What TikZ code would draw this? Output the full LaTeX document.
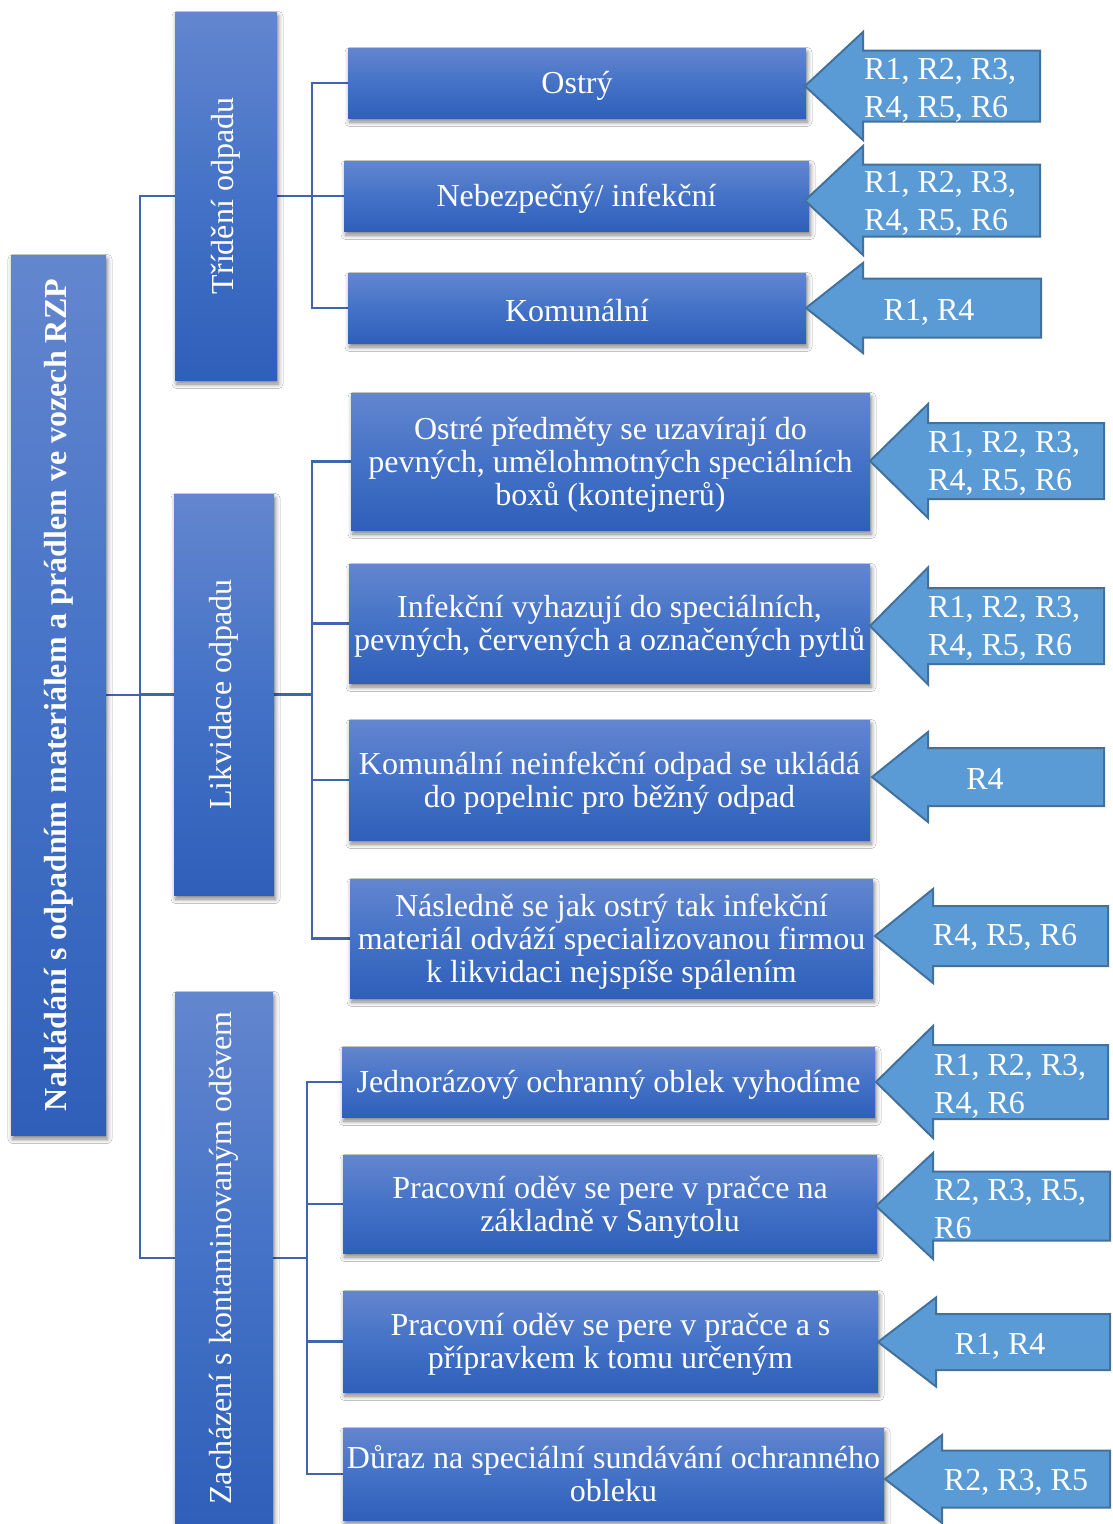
\documentclass[tikz,border=0pt]{standalone}
\usepackage{fontspec}
\setmainfont{Liberation Serif}
\usetikzlibrary{shadows.blur,backgrounds}

\definecolor{boxtop}{RGB}{99,134,206}
\definecolor{boxmid}{RGB}{68,114,199}
\definecolor{boxbot}{RGB}{47,95,185}
\definecolor{linkblue}{RGB}{64,101,173}
\definecolor{calloutfill}{RGB}{91,155,213}
\definecolor{calloutline}{RGB}{65,113,156}

% invisible strut that sets the height of a first text line
\newcommand\lift{\rule{0pt}{28pt}}

\tikzset{
  box/.style={rectangle, inner sep=0pt, top color=boxtop, bottom color=boxbot,
    middle color=boxmid, text=white, align=center,
    font=\fontsize{32}{33}\selectfont,
    execute at begin node={\lift},
    blur shadow={shadow xshift=1.5pt, shadow yshift=-4pt,
      shadow blur radius=4.5pt, shadow opacity=50}},
  conn/.style={draw=linkblue, line width=2.5pt, line cap=rect},
  callout/.style={fill=calloutfill, draw=calloutline, line width=2pt, line join=miter},
  reftext/.style={text=white, inner sep=0pt, align=left,
    font=\fontsize{32}{38}\selectfont},
}

% left-pointing block arrow: tip x, centre y, head base x, head half height,
% shaft half height, right end x
\newcommand\refarrow[6]{%
  \draw[callout] (#1,#2) -- (#3,#2-#4) -- (#3,#2-#5) -- (#6,#2-#5)
    -- (#6,#2+#5) -- (#3,#2+#5) -- (#3,#2+#4) -- cycle;}

\begin{document}
\begin{tikzpicture}[x=1pt, y=-1pt]
\useasboundingbox (0,0) rectangle (1112,1524);

% root
\node[box, minimum width=95pt, minimum height=880pt] (m) at (58.5,695)
  {\rotatebox{90}{\bfseries Nakládání s odpadním materiálem a prádlem ve vozech RZP}};

% second level
\node[box, minimum width=102pt, minimum height=368pt] (t1) at (226,196)
  {\rotatebox{90}{Třídění odpadu}};
\node[box, minimum width=100pt, minimum height=401pt] (t2) at (224,694.5)
  {\rotatebox{90}{Likvidace odpadu}};
\node[box, minimum width=98pt, minimum height=532pt] (t3) at (224,1258)
  {\rotatebox{90}{Zacházení s kontaminovaným oděvem}};

% sorting
\node[box, minimum width=458pt, minimum height=70pt] (a1) at (577,83) {Ostrý};
\node[box, minimum width=465pt, minimum height=70pt] (a2) at (576.5,196) {Nebezpečný/ infekční};
\node[box, minimum width=458pt, minimum height=70pt] (a3) at (577,308) {Komunální};

% disposal
\node[box, minimum width=519pt, minimum height=137pt] (b1) at (610.5,461.5)
  {\lift Ostré předměty se uzavírají do\\pevných, umělohmotných speciálních\\boxů (kontejnerů)};
\node[box, minimum width=521pt, minimum height=119pt] (b2) at (609.5,623.5)
  {\lift Infekční vyhazují do speciálních,\\pevných, červených a označených pytlů};
\node[box, minimum width=521pt, minimum height=120pt] (b3) at (609.5,780)
  {\lift Komunální neinfekční odpad se ukládá\\do popelnic pro běžný odpad};
\node[box, minimum width=523pt, minimum height=119pt] (b4) at (611.5,938.5)
  {\lift Následně se jak ostrý tak infekční\\materiál odváží specializovanou firmou\\k likvidaci nejspíše spálením};

% contaminated clothing
\node[box, minimum width=533pt, minimum height=70pt] (c1) at (608.5,1082)
  {Jednorázový ochranný oblek vyhodíme};
\node[box, minimum width=534pt, minimum height=98pt] (c2) at (610,1204)
  {\lift Pracovní oděv se pere v pračce na\\základně v Sanytolu};
\node[box, minimum width=535pt, minimum height=101pt] (c3) at (610.5,1341.5)
  {\lift Pracovní oděv se pere v pračce a s\\přípravkem k tomu určeným};
\node[box, minimum width=541pt, minimum height=92pt] (c4) at (613.5,1474)
  {Důraz na speciální sundávání ochranného\\obleku};

% block arrows
\refarrow{805}{86}{863}{54}{35.5}{1040}
\refarrow{805}{200.5}{863}{54.5}{36}{1040}
\refarrow{806}{308}{863}{45}{29.5}{1041}
\refarrow{870}{461}{928}{57}{38}{1104}
\refarrow{870}{626}{928}{58.5}{38}{1104}
\refarrow{872}{777}{928}{45}{29}{1104}
\refarrow{875}{936}{933}{47}{30}{1108}
\refarrow{876}{1082}{933}{56}{37}{1108}
\refarrow{876}{1206}{933}{53}{34.5}{1110}
\refarrow{878}{1342}{936}{44.5}{28}{1110}
\refarrow{885}{1479}{942}{44}{28.5}{1110}

\node[reftext, anchor=west] (r1) at (864,90) {R1, R2, R3,\\R4, R5, R6};
\node[reftext, anchor=west] (r2) at (864,203) {R1, R2, R3,\\R4, R5, R6};
\node[reftext] (r3) at (929,312) {R1, R4};
\node[reftext, anchor=west] (r4) at (928,463) {R1, R2, R3,\\R4, R5, R6};
\node[reftext, anchor=west] (r5) at (928,628) {R1, R2, R3,\\R4, R5, R6};
\node[reftext] (r6) at (985,779) {R4};
\node[reftext] (r7) at (1005,937) {R4, R5, R6};
\node[reftext, anchor=west] (r8) at (934,1086) {R1, R2, R3,\\R4, R6};
\node[reftext, anchor=west] (r9) at (934,1209) {R2, R3, R5,\\R6};
\node[reftext] (r10) at (1000,1346) {R1, R4};
\node[reftext] (r11) at (1016,1482) {R2, R3, R5};

% tree connectors
\begin{scope}[on background layer]
  \fill[white] (0,0) rectangle (1112,1524);
  \coordinate (busA) at (140,0);
  \coordinate (busB) at (312,0);
  \coordinate (busC) at (312,0);
  \coordinate (busD) at (307,0);
  \draw[conn] (m.east) -- (busA |- m.east);
  \draw[conn] (busA |- t1.west) -- (busA |- t3.west);
  \foreach \n in {t1,t2,t3} \draw[conn] (busA |- \n.west) -- (\n.west);
  \draw[conn] (t1.east) -- (busB |- t1.east);
  \draw[conn] (busB |- a1.west) -- (busB |- a3.west);
  \foreach \n in {a1,a2,a3} \draw[conn] (busB |- \n.west) -- (\n.west);
  \draw[conn] (t2.east) -- (busC |- t2.east);
  \draw[conn] (busC |- b1.west) -- (busC |- b4.west);
  \foreach \n in {b1,b2,b3,b4} \draw[conn] (busC |- \n.west) -- (\n.west);
  \draw[conn] (t3.east) -- (busD |- t3.east);
  \draw[conn] (busD |- c1.west) -- (busD |- c4.west);
  \foreach \n in {c1,c2,c3,c4} \draw[conn] (busD |- \n.west) -- (\n.west);
\end{scope}
\end{tikzpicture}
\end{document}
